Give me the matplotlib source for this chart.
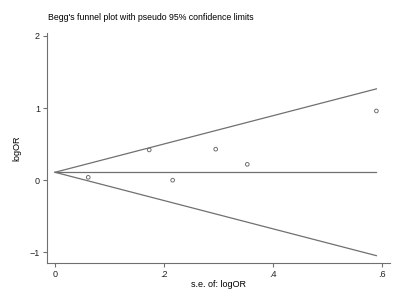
import numpy as np
import matplotlib.pyplot as plt

plt.rcParams['font.family'] = ['Liberation Sans', 'DejaVu Sans']

# === Data ===
se_logor = [0.061, 0.173, 0.216, 0.295, 0.353, 0.590]
logor = [0.04, 0.42, 0.00, 0.43, 0.22, 0.96]
pooled = 0.11
se_max = 0.59

xticks = [0, 0.2, 0.4, 0.6]
xticklabels = ["0", ".2", ".4", ".6"]
yticks = [-1, 0, 1, 2]

grey = "#707070"

fig = plt.figure(figsize=(4, 2.98), dpi=100)
ax = fig.add_axes([0.1175, 0.117, 0.8575, 0.772])

# pseudo 95% limits
se_line = np.array([0, se_max])
ax.plot(se_line, pooled + 1.96 * se_line, color=grey, lw=0.9)
ax.plot(se_line, pooled - 1.96 * se_line, color=grey, lw=0.9)
ax.plot(se_line, [pooled, pooled], color=grey, lw=0.9)

ax.scatter(se_logor, logor, s=7, facecolors="none", edgecolors=grey, linewidths=0.7, zorder=3)

ax.set_xlim(-0.0147, 0.615)
ax.set_ylim(-1.15, 2.04)
ax.set_xticks(xticks)
ax.set_xticklabels(xticklabels)
ax.set_yticks(yticks)

for s in ["top", "right"]:
    ax.spines[s].set_visible(False)
for s in ["left", "bottom"]:
    ax.spines[s].set_color(grey)
    ax.spines[s].set_linewidth(0.8)

ax.tick_params(axis="both", labelsize=6.5, colors="#222222", color=grey, width=0.8, length=3, pad=2)
ax.set_xlabel("s.e. of: logOR", fontsize=6.5, labelpad=1)
ax.set_ylabel("logOR", fontsize=6.5, labelpad=6)

fig.text(0.12, 0.94, "Begg's funnel plot with pseudo 95% confidence limits", fontsize=6.3, va="center", ha="left")

plt.savefig("out.png", dpi=100)
